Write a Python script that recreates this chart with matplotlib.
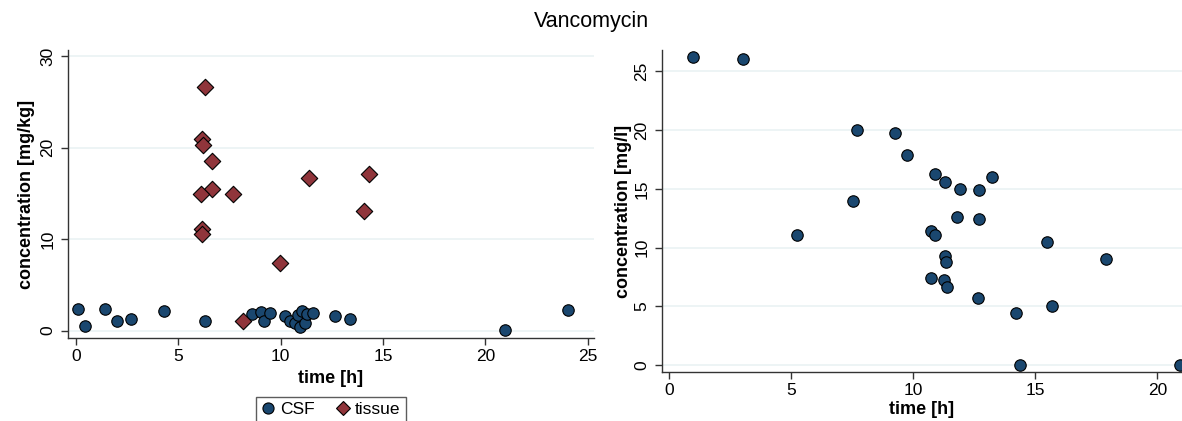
import matplotlib
matplotlib.use("Agg")
import matplotlib.pyplot as plt
from matplotlib.lines import Line2D

plt.rcParams['font.family'] = ['Liberation Sans', 'DejaVu Sans']

# CSF concentrations (left panel)
csf_time = [0.10, 0.47, 1.44, 2.00, 2.71, 4.31, 6.32, 8.58, 9.06, 9.20, 9.48,
            10.21, 10.45, 10.70, 10.87, 11.03, 10.94, 11.19, 11.31, 11.59,
            12.65, 13.39, 20.96, 24.05]
csf_conc = [2.38, 0.48, 2.38, 1.10, 1.28, 2.19, 1.06, 1.85, 2.00, 1.08, 1.88,
            1.62, 1.02, 0.80, 1.75, 2.15, 0.44, 0.80, 1.82, 1.88,
            1.60, 1.28, 0.08, 2.30]

# tissue concentrations (left panel)
tissue_time = [6.32, 6.15, 6.21, 6.66, 6.66, 6.13, 7.67, 6.16, 6.16, 9.95,
               11.40, 14.31, 14.08, 8.18]
tissue_conc = [26.66, 21.00, 20.34, 18.55, 15.55, 14.97, 14.97, 11.17, 10.59,
               7.41, 16.69, 17.16, 13.14, 1.10]

# concentrations in mg/l (right panel)
serum_time = [0.98, 3.02, 5.25, 7.54, 7.70, 9.26, 9.73, 10.88, 10.71, 10.90,
              10.73, 11.29, 11.90, 12.68, 13.21, 11.79, 12.70, 15.48, 17.91,
              11.30, 11.34, 11.27, 11.37, 12.65, 14.22, 15.70, 14.36, 20.93]
serum_conc = [26.23, 26.03, 11.03, 13.93, 20.00, 19.73, 17.90, 16.30, 11.42,
              11.08, 7.42, 15.60, 15.00, 14.89, 16.00, 12.62, 12.40, 10.49,
              9.01, 9.29, 8.78, 7.22, 6.60, 5.71, 4.40, 5.03, 0.00, 0.00]

left_xticks = [0, 5, 10, 15, 20, 25]
left_yticks = [0, 10, 20, 30]
right_xticks = [0, 5, 10, 15, 20]
right_yticks = [0, 5, 10, 15, 20, 25]

NAVY = '#1a476f'
MAROON = '#90353b'
GRID = '#eaf2f3'
W, H = 1182, 421

fig = plt.figure(figsize=(W / 100, H / 100), dpi=100)
fig.patch.set_facecolor('white')


def px_axes(x0, x1, y0, y1):
    return fig.add_axes([x0 / W, 1 - y1 / H, (x1 - x0) / W, (y1 - y0) / H])


def style(ax, xticks, yticks):
    for s in ('top', 'right'):
        ax.spines[s].set_visible(False)
    for s in ('left', 'bottom'):
        ax.spines[s].set_color('#333333')
        ax.spines[s].set_linewidth(1.0)
    ax.set_xticks(xticks)
    ax.set_yticks(yticks)
    ax.tick_params(axis='both', direction='out', length=5, width=1,
                   color='#333333', labelsize=12.5, labelcolor='black')
    ax.tick_params(axis='x', pad=3)
    ax.tick_params(axis='y', pad=4)
    for lab in ax.get_yticklabels():
        lab.set_rotation(90)
        lab.set_va('center')
    ax.yaxis.grid(True, color=GRID, linewidth=1.2)
    ax.set_axisbelow(True)


# left panel
axL = px_axes(68, 594, 50, 338)
axL.scatter(csf_time, csf_conc, s=68, marker='o', facecolor=NAVY,
            edgecolor='black', linewidth=0.8, zorder=3)
axL.scatter(tissue_time, tissue_conc, s=70, marker='D', facecolor=MAROON,
            edgecolor='black', linewidth=0.8, zorder=3)
axL.set_xlim(-0.38, 25.3)
axL.set_ylim(-0.8, 30.7)
style(axL, left_xticks, left_yticks)
axL.set_xlabel('time [h]', fontsize=13, fontweight='bold', labelpad=4)
axL.set_ylabel('concentration [mg/kg]', fontsize=13, fontweight='bold',
               labelpad=4)

handles = [
    Line2D([], [], linestyle='none', marker='o', markersize=8,
           markerfacecolor=NAVY, markeredgecolor='black', markeredgewidth=0.8),
    Line2D([], [], linestyle='none', marker='D', markersize=7,
           markerfacecolor=MAROON, markeredgecolor='black', markeredgewidth=0.8),
]
leg = axL.legend(handles, ['CSF', 'tissue'], loc='upper center',
                 bbox_to_anchor=(0.5, -0.205), ncol=2, fontsize=12.5,
                 frameon=True, fancybox=False, handlelength=0.8,
                 handletextpad=0.3, columnspacing=1.2, borderpad=0.3,
                 borderaxespad=0)
leg.get_frame().set_edgecolor('#333333')
leg.get_frame().set_linewidth(1.0)

# right panel
axR = px_axes(662, 1182, 50, 372)
axR.scatter(serum_time, serum_conc, s=68, marker='o', facecolor=NAVY,
            edgecolor='black', linewidth=0.8, zorder=3)
axR.set_xlim(-0.29, 21.01)
axR.set_ylim(-0.6, 26.83)
style(axR, right_xticks, right_yticks)
axR.set_xlabel('time [h]', fontsize=13, fontweight='bold', labelpad=2)
axR.set_ylabel('concentration [mg/l]', fontsize=13, fontweight='bold',
               labelpad=2)

fig.suptitle('Vancomycin', fontsize=15.5, y=1 - 22 / H, va='center')

fig.savefig('out.png', dpi=100, facecolor='white')
